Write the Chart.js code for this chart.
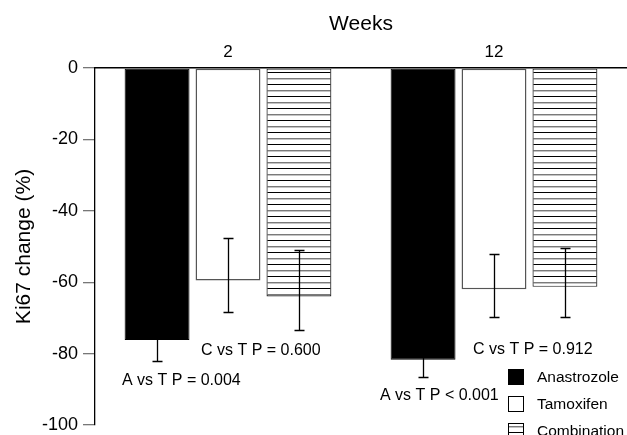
<!DOCTYPE html>
<html>
<head>
<meta charset="utf-8">
<script src="https://cdn.jsdelivr.net/npm/chart.js@4.4.1/dist/chart.umd.min.js"></script>
<style>
  html, body { margin: 0; padding: 0; background: #fff; }
  #wrap { width: 627px; height: 435px; position: relative; }
</style>
</head>
<body>
<div id="wrap"><canvas id="c" width="627" height="435"></canvas></div>
<script>
// Ki67 change by treatment arm at weeks 2 and 12
const weeks = ['2', '12'];
const treatments = ['Anastrozole', 'Tamoxifen', 'Combination'];
const anastrozole = [-76.2, -81.7];
const tamoxifen = [-59.5, -62.0];
const combination = [-64.0, -61.3];
// error bar limits (upper, lower) per treatment and week
const anastrozoleErr = [[-70.4, -82.0], [-76.8, -86.6]];
const tamoxifenErr = [[-47.6, -68.4], [-52.1, -69.7]];
const combinationErr = [[-51.1, -73.5], [-50.4, -69.7]];
const pValueLabels = [
  ['A vs T P = 0.004', 'C vs T P = 0.600'],
  ['A vs T P < 0.001', 'C vs T P = 0.912']
];
const yTicks = [0, -20, -40, -60, -80, -100];

const FONT = "'Liberation Sans', Arial, sans-serif";

// horizontal stripe fill for the combination arm
function stripePattern() {
  const p = document.createElement('canvas');
  p.width = 8; p.height = 12;
  const g = p.getContext('2d');
  g.fillStyle = '#fff';
  g.fillRect(0, 0, 8, 12);
  g.fillStyle = '#000';
  g.fillRect(0, 0, 8, 1);
  g.fillStyle = '#7a7a7a';
  g.fillRect(0, 6, 8, 1);
  g.fillStyle = '#c4c4c4';
  g.fillRect(0, 7, 8, 1);
  return document.getElementById('c').getContext('2d').createPattern(p, 'repeat');
}
const stripes = stripePattern();

const errSets = [anastrozoleErr, tamoxifenErr, combinationErr];

const errorBars = {
  id: 'errorBars',
  afterDatasetsDraw(chart) {
    const ctx = chart.ctx, y = chart.scales.y;
    ctx.save();
    ctx.strokeStyle = '#000';
    ctx.lineWidth = 1.3;
    chart.data.datasets.forEach((ds, di) => {
      const meta = chart.getDatasetMeta(di);
      meta.data.forEach((bar, i) => {
        const [hi, lo] = errSets[di][i];
        const x = Math.round(bar.x) + 0.5;
        const y1 = y.getPixelForValue(hi), y2 = y.getPixelForValue(lo);
        ctx.beginPath();
        ctx.moveTo(x, y1); ctx.lineTo(x, y2);
        ctx.moveTo(x - 5, Math.round(y1) + 0.5); ctx.lineTo(x + 5, Math.round(y1) + 0.5);
        ctx.moveTo(x - 5, Math.round(y2) + 0.5); ctx.lineTo(x + 5, Math.round(y2) + 0.5);
        ctx.stroke();
      });
    });
    ctx.restore();
  }
};

const annotations = {
  id: 'annotations',
  afterDraw(chart) {
    const ctx = chart.ctx, x = chart.scales.x, y = chart.scales.y;
    ctx.save();
    ctx.font = '16px ' + FONT;
    ctx.fillStyle = '#000';
    ctx.textBaseline = 'middle';
    ctx.textAlign = 'left';
    // p-value notes beneath each week group
    const spots = [
      [[-106, -87.5], [-27, -79.2]],
      [[-114, -91.9], [-21, -79.0]]
    ];
    weeks.forEach((w, i) => {
      const cx = x.getPixelForValue(i);
      pValueLabels[i].forEach((t, j) => {
        ctx.fillText(t, cx + spots[i][j][0], y.getPixelForValue(spots[i][j][1]));
      });
    });
    // legend in the lower right corner
    ctx.font = '15.5px ' + FONT;
    const area = chart.chartArea;
    const lx = area.right - 119;
    const rows = [369, 396, 423];
    chart.data.datasets.forEach((ds, di) => {
      const top = rows[di];
      ctx.fillStyle = ds.backgroundColor;
      ctx.fillRect(lx, top, 16, 16);
      ctx.strokeStyle = '#000';
      ctx.lineWidth = 1;
      ctx.strokeRect(lx + 0.5, top + 0.5, 15, 15);
      ctx.fillStyle = '#000';
      ctx.fillText(ds.label, lx + 29, top + 8.5);
    });
    ctx.restore();
  }
};

new Chart(document.getElementById('c'), {
  type: 'bar',
  data: {
    labels: weeks,
    datasets: [
      { label: treatments[0], data: anastrozole, backgroundColor: '#000', borderColor: '#000', borderWidth: 1 },
      { label: treatments[1], data: tamoxifen, backgroundColor: '#fff', borderColor: '#555', borderWidth: 1.5 },
      { label: treatments[2], data: combination, backgroundColor: stripes, borderColor: '#222', borderWidth: 1.2 }
    ]
  },
  options: {
    responsive: false,
    animation: false,
    devicePixelRatio: 1,
    layout: { padding: { top: 0, right: 0, bottom: 10, left: 0 } },
    datasets: { bar: { categoryPercentage: 0.8, barPercentage: 0.915, borderSkipped: false } },
    plugins: {
      legend: { display: false },
      tooltip: { enabled: false }
    },
    scales: {
      x: {
        position: 'top',
        grid: { display: false, drawTicks: false },
        border: { display: true, color: '#000', width: 1.5 },
        ticks: { color: '#000', font: { family: FONT, size: 17 }, padding: 5 },
        title: { display: true, text: 'Weeks', color: '#000', font: { family: FONT, size: 21 }, padding: { top: 12, bottom: 4 } },
        afterFit(s) { s.height = 68; s.paddingLeft = 0; s.paddingRight = 0; }
      },
      y: {
        min: -100,
        max: 0,
        afterBuildTicks(s) { s.ticks = yTicks.map(v => ({ value: v })); },
        grid: { drawOnChartArea: false, drawTicks: true, tickLength: 12, color: '#777', lineWidth: 1.3 },
        border: { display: true, color: '#000', width: 1.3 },
        ticks: { color: '#000', font: { family: FONT, size: 18 }, padding: 5 },
        title: { display: true, text: 'Ki67 change (%)', color: '#000', font: { family: FONT, size: 21 }, padding: { top: 12, bottom: 4 } },
        afterFit(s) { s.width = 95; s.paddingTop = 0; s.paddingBottom = 0; }
      }
    }
  },
  plugins: [errorBars, annotations]
});
</script>
</body>
</html>
